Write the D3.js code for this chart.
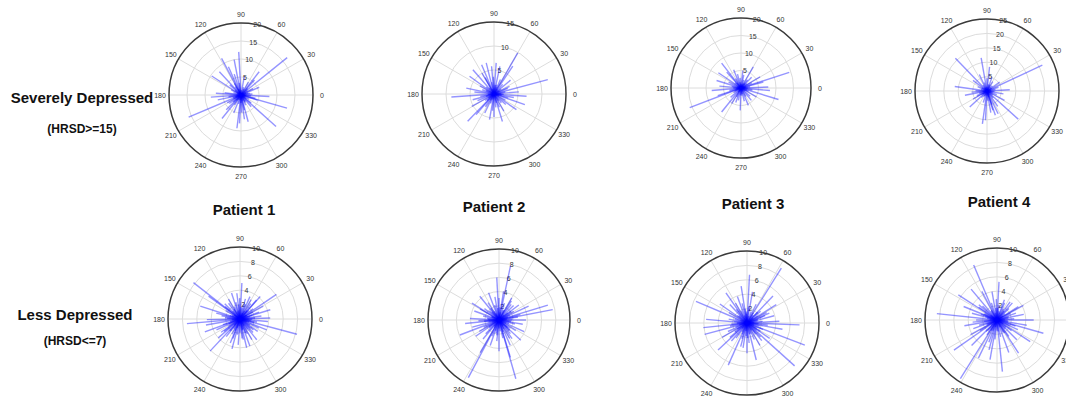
<!DOCTYPE html>
<html>
<head>
<meta charset="utf-8">
<script src="https://cdn.jsdelivr.net/npm/d3@7"></script>
<style>
  body { margin: 0; background: #fff; }
  svg { display: block; }
  text { font-family: "Liberation Sans", Arial, sans-serif; }
</style>
</head>
<body>
<div id="rootDiv"></div>
<script>
const width = 1066
const height = 398

const patients = ["Patient 1", "Patient 2", "Patient 3", "Patient 4"]
const groupNames = ["Severely Depressed", "Less Depressed"]
const groupNotes = ["(HRSD>=15)", "(HRSD<=7)"]
const angleTicks = [0, 30, 60, 90, 120, 150, 180, 210, 240, 270, 300, 330]
const severeMax = [20, 15, 20, 25]
const severeTicks = [[5, 10, 15, 20], [5, 10, 15], [5, 10, 15, 20], [5, 10, 15, 20, 25]]
const lessMax = [10, 10, 10, 10]
const lessTicks = [2, 4, 6, 8, 10]

// [angle in degrees, magnitude]
const severe1 = [
    [39, 16.5], [203, 15.8], [93, 12], [118, 11.5], [344, 13.3], [318, 13.1], [357, 7.9], [184, 8.4],
    [263, 9.3], [285, 7.7], [147, 9.7], [52, 8.2], [231, 8.4], [101, 10], [114, 8.6], [133, 8.8],
    [267, 7.9], [192, 6.6], [23, 5.5], [311, 4.3], [225, 5.8], [48, 5.6], [282, 4.3], [120, 3.7],
    [176, 7], [216, 4], [343, 4.8],
    [5, 3.2], [15, 2.1], [28, 3.8], [45, 2.6], [60, 4.1], [72, 2.3], [80, 5.2], [98, 3.4], [108, 6.1],
    [125, 2.8], [138, 4.2], [152, 3.1], [163, 2.2], [172, 4.6], [188, 3.5], [198, 2.4], [210, 4.4],
    [222, 2.9], [236, 3.3], [248, 5.4], [255, 2.6], [272, 4.9], [278, 6.8], [295, 3.1], [305, 2.2],
    [322, 3.6], [333, 2.5], [348, 4.1], [355, 2.8], [20, 1.5], [110, 1.8], [200, 1.6], [290, 1.7],
    [350, 1.4], [65, 1.9], [155, 1.2], [245, 1.5], [325, 1.8],
    [2, 1.1], [35, 2.2], [88, 1.3], [142, 2.1], [178, 1.2], [206, 2.3], [262, 1.4], [300, 2.4], [338, 1.2],
    [10, 2.6], [128, 1.1], [230, 1.9], [270, 2.2], [315, 1.3]
]
const severe2 = [
    [60, 9.9], [15, 11.6], [184, 8.9], [356, 6.8], [341, 6.8], [226, 7.9], [287, 6], [104, 6.7],
    [131, 6.7], [113, 6.6], [78, 5.9], [56, 7], [144, 6.3], [229, 5.7], [260, 5.4], [325, 5.7],
    [168, 5.9], [209, 5.3], [26, 3.6], [86, 6.5], [95, 5.8], [244, 4.4], [5, 5.2], [350, 4.2],
    [120, 5], [195, 4.6], [270, 4.8], [300, 4.1], [40, 4.5],
    [10, 2.4], [22, 3.1], [35, 1.8], [48, 2.7], [66, 3.3], [74, 2], [92, 3.6], [101, 2.5], [118, 3.9],
    [138, 2.2], [150, 3.4], [160, 2.6], [174, 4.1], [190, 2.9], [202, 3.7], [216, 2.3], [236, 3.2],
    [250, 2.1], [265, 3.5], [278, 2.8], [292, 3], [310, 2.4], [318, 3.3], [332, 2.7], [345, 3.1],
    [358, 2], [127, 1.6], [215, 1.4], [305, 1.7], [30, 1.3],
    [3, 1.5], [52, 1.2], [83, 1.9], [108, 1.1], [156, 1.8], [182, 1.3], [222, 2], [256, 1.2], [285, 1.9],
    [338, 1.1], [70, 1.5], [196, 1.7], [240, 1.5], [352, 1.6]
]
const severe3 = [
    [18, 14.5], [201, 15.7], [128, 9], [163, 7.3], [185, 8.4], [2, 7.8], [343, 11.2], [355, 8.3],
    [231, 8.8], [293, 5.4], [84, 5], [60, 7], [132, 6.1], [146, 7.8], [30, 6.3], [239, 5.2],
    [330, 5.1], [198, 7], [268, 6.4], [15, 6.6], [112, 5.6], [175, 6.2], [310, 4.6], [250, 4.4], [45, 4.3],
    [8, 2.6], [25, 3.4], [38, 2.1], [52, 3], [70, 2.4], [78, 3.8], [95, 2.9], [104, 4.1], [120, 3.1],
    [140, 2.3], [155, 3.9], [170, 2.7], [192, 3.4], [212, 2.5], [222, 4], [244, 2.9], [258, 3.6],
    [276, 2.2], [284, 3.9], [300, 2.8], [318, 3.5], [336, 2.4], [350, 3.3], [358, 1.9], [100, 1.6],
    [190, 1.5], [280, 1.8], [15, 1.4],
    [5, 1.2], [48, 1.7], [88, 1.1], [130, 1.9], [160, 1.2], [205, 2], [235, 1.3], [265, 2.1], [305, 1.2],
    [340, 1.8], [65, 1.4], [180, 2.2], [325, 1.5]
]
const severe4 = [
    [25, 21.2], [134, 15.8], [100, 11.7], [318, 14.6], [262, 11.5], [172, 11.3], [3, 7.9], [296, 8.8],
    [287, 7], [223, 8.2], [191, 7.8], [84, 8.4], [143, 6.1], [35, 5.4], [184, 5.4], [267, 10.2],
    [332, 6.9], [289, 8.9], [305, 6.5], [280, 7.6], [210, 5.6], [350, 5.8], [70, 5], [115, 6.3],
    [10, 3], [18, 4.2], [45, 2.6], [58, 3.8], [75, 2.4], [90, 4.4], [108, 3.1], [125, 2.5], [155, 3.6],
    [165, 2.2], [178, 4], [196, 2.8], [205, 3.9], [230, 3], [240, 2.3], [252, 4.2], [275, 3.4],
    [290, 4.8], [312, 3.2], [325, 2.4], [340, 3.6], [355, 2.6], [30, 1.8], [130, 1.5], [220, 1.7], [300, 1.6],
    [5, 1.4], [52, 1.9], [95, 1.3], [150, 2.1], [186, 1.5], [214, 2.3], [258, 1.6], [284, 2.2], [330, 1.4],
    [65, 2.4], [118, 1.2], [245, 1.9], [345, 2]
]
const less1 = [
    [142, 8.2], [345, 8.2], [185, 7.4], [34, 6.1], [227, 6.1], [290, 4], [87, 5], [17, 4.4], [355, 3.9],
    [144, 5.4], [166, 3.4], [108, 3.8], [49, 3.5], [248, 3.6], [221, 4], [321, 2.4], [29, 3.7], [181, 4.6],
    [279, 2.9], [140, 2.7], [190, 4.8], [266, 3.6], [283, 4.1], [48, 4.2], [66, 3.4], [97, 3.6], [162, 5.8],
    [2, 4.2], [338, 4], [309, 3.7], [232, 3.1], [205, 3.6], [255, 4.3], [120, 3.2], [75, 2.9], [200, 5.2], [300, 3.3],
    [4, 2.1], [12, 1.4], [20, 2.8], [26, 1.1], [38, 2.3], [44, 1.7], [55, 2.6], [62, 1.3], [70, 2.2], [80, 1.6],
    [91, 2.9], [100, 1.2], [104, 2.4], [115, 1.9], [126, 2.7], [133, 1.5], [150, 2.3], [156, 1.2], [170, 2.6],
    [176, 1.8], [194, 1.4], [198, 2.5], [212, 1.9], [218, 2.8], [236, 1.6], [242, 2.4], [252, 1.3], [260, 2.2],
    [270, 1.9], [276, 2.7], [286, 1.5], [296, 2.3], [306, 1.8], [314, 2.6], [328, 1.6], [334, 2.9], [342, 1.3],
    [350, 2.4], [358, 1.7], [8, 3], [60, 3.1], [135, 3], [215, 3.2], [325, 3], [250, 2.9],
    [1, 1.2], [16, 1.8], [32, 1], [50, 1.5], [68, 0.9], [85, 1.7], [110, 1.1], [122, 1.6], [146, 1],
    [160, 1.5], [184, 1.1], [204, 1.7], [226, 1.2], [246, 1.8], [264, 1], [282, 1.6], [302, 1.1], [318, 1.9],
    [336, 1], [352, 1.5], [28, 2], [95, 2], [175, 2.1], [230, 2.2], [292, 2.1], [346, 2]
]
const less2 = [
    [242, 9.2], [286, 8.6], [78, 7.8], [11, 7.7], [17, 7.2], [201, 5.9], [93, 6], [148, 4.5], [186, 4.8],
    [287, 5.5], [240, 5.3], [0, 3.8], [335, 3.9], [111, 4.1], [129, 4.3], [37, 3.5], [251, 3.8], [81, 4.1],
    [294, 3.9], [177, 4.1], [317, 4.2], [60, 3.6], [160, 3.7], [215, 4], [270, 4.4], [350, 3.4], [25, 4.6],
    [100, 3.3], [230, 3.5], [305, 3.2], [195, 3.9], [45, 2.9],
    [3, 1.9], [9, 2.7], [18, 1.3], [30, 2.4], [40, 1.6], [52, 2.8], [66, 1.5], [72, 2.5], [86, 1.8], [90, 3.1],
    [106, 2.2], [118, 1.4], [122, 2.9], [136, 1.9], [142, 2.6], [154, 1.2], [166, 2.3], [172, 1.7], [182, 2.9],
    [190, 1.5], [206, 2.4], [220, 1.8], [226, 2.7], [236, 1.3], [246, 2.5], [258, 1.9], [264, 3], [276, 1.6],
    [282, 2.6], [298, 1.4], [310, 2.5], [322, 1.9], [328, 2.8], [340, 1.5], [346, 2.3], [356, 1.8], [14, 3.1],
    [57, 3.2], [150, 3.1], [210, 3.2], [300, 3],
    [6, 1.1], [24, 1.7], [46, 1], [62, 1.6], [80, 1.1], [96, 1.7], [114, 1], [132, 1.5], [158, 1.1],
    [176, 1.6], [198, 1], [214, 1.7], [232, 1.1], [252, 1.6], [270, 1.2], [290, 1.8], [306, 1], [318, 1.6],
    [334, 1.1], [352, 1.7], [35, 2.1], [125, 2], [185, 2.1], [262, 2.2], [315, 2.1]
]
const less3 = [
    [58, 9], [157, 7.7], [339, 8.6], [318, 8.9], [358, 7.3], [246, 6.4], [223, 5.5], [195, 6.1], [87, 6.7],
    [284, 5.3], [175, 5.7], [32, 4.8], [46, 5.2], [99, 5.2], [125, 5.1], [24, 3.4], [261, 3.5], [326, 3.8],
    [186, 6.1], [133, 3.5], [229, 3.3], [3, 4.5], [80, 4.4], [110, 3.9], [270, 4.2], [300, 3.6], [210, 4],
    [145, 4.6], [15, 3.9], [350, 5],
    [6, 2.2], [12, 1.5], [22, 2.7], [34, 1.8], [41, 2.5], [52, 1.4], [64, 2.9], [70, 1.7], [84, 2.3], [94, 1.3],
    [104, 2.8], [116, 1.9], [128, 2.4], [138, 1.5], [150, 2.9], [162, 1.8], [168, 2.6], [180, 1.4], [190, 2.4],
    [200, 1.7], [204, 2.9], [216, 2.1], [234, 2.6], [240, 1.4], [252, 2.3], [266, 1.8], [276, 2.8], [290, 1.6],
    [294, 2.5], [308, 1.9], [314, 2.7], [332, 1.5], [338, 2.4], [346, 1.8], [354, 2.9], [28, 3.1], [120, 3.2],
    [220, 3.1], [310, 3.2], [255, 3.4],
    [2, 1], [18, 1.6], [38, 1.1], [58, 1.7], [76, 1], [92, 1.6], [108, 1.1], [142, 1.7], [156, 1],
    [174, 1.8], [194, 1.1], [212, 1.6], [228, 1], [246, 1.7], [262, 1.1], [282, 1.6], [302, 1.2], [322, 1.7],
    [342, 1], [356, 1.6], [45, 2.1], [98, 2], [184, 2.2], [272, 2.1], [328, 2.2]
]
const less4 = [
    [113, 8.3], [238, 9.6], [174, 8.4], [344, 6.7], [0, 5.1], [327, 5.5], [276, 7.2], [215, 7.3], [87, 5.3],
    [147, 6.4], [158, 5], [32, 3.5], [29, 4.2], [118, 4.5], [260, 5.6], [303, 5.5], [244, 5.9], [209, 4.2],
    [54, 3.1], [350, 4.2], [130, 5.6], [190, 4.6], [290, 4.8], [225, 5], [12, 3.8], [70, 3], [100, 4],
    [165, 3.6], [315, 3.9], [255, 4.3], [200, 3.5], [140, 3.3],
    [4, 2.4], [10, 1.6], [20, 2.8], [38, 1.4], [44, 2.3], [60, 1.8], [66, 2.6], [78, 1.3], [92, 2.9], [96, 1.7],
    [108, 2.5], [124, 1.5], [136, 2.8], [152, 1.9], [160, 2.4], [170, 1.4], [180, 2.9], [186, 1.8], [196, 2.6],
    [206, 1.5], [212, 2.8], [230, 1.9], [236, 2.5], [248, 1.6], [264, 2.7], [270, 1.5], [282, 2.4], [296, 1.9],
    [306, 2.8], [320, 1.6], [324, 2.5], [336, 1.9], [342, 2.7], [356, 1.5], [48, 3.2], [145, 3.1], [250, 3.3],
    [335, 3.2], [185, 3.4],
    [1, 1.1], [16, 1.7], [34, 1], [52, 1.6], [72, 1.1], [88, 1.7], [104, 1], [120, 1.6], [144, 1.1],
    [164, 1.7], [176, 1], [202, 1.6], [220, 1.1], [240, 1.7], [258, 1], [276, 1.6], [292, 1.1], [312, 1.7],
    [330, 1], [350, 1.6], [26, 2.1], [82, 2.1], [156, 2], [226, 2.2], [300, 2.1]
]

const svg = d3.select("#rootDiv").append("svg")
    .attr("width", width)
    .attr("height", height)

function rad(deg) {
    // d3.pointRadial measures from 12 o'clock clockwise
    return (90 - deg) * Math.PI / 180
}

function drawCompass(cx, cy, R, rmax, ticks, data) {
    const g = svg.append("g").attr("transform", `translate(${cx},${cy})`)
    const r = d3.scaleLinear().domain([0, rmax]).range([0, R])

    g.selectAll(".ring").data(ticks.filter(t => t < rmax)).enter()
        .append("circle")
        .attr("r", d => r(d))
        .attr("fill", "none")
        .attr("stroke", "#dcdcdc")
        .attr("stroke-width", 1)

    g.selectAll(".spoke").data(angleTicks.filter(a => a < 180)).enter()
        .append("line")
        .attr("x1", d => d3.pointRadial(rad(d), R)[0])
        .attr("y1", d => d3.pointRadial(rad(d), R)[1])
        .attr("x2", d => d3.pointRadial(rad(d + 180), R)[0])
        .attr("y2", d => d3.pointRadial(rad(d + 180), R)[1])
        .attr("stroke", "#dcdcdc")
        .attr("stroke-width", 1)

    g.append("circle")
        .attr("r", R)
        .attr("fill", "none")
        .attr("stroke", "#3a3a3a")
        .attr("stroke-width", 1.5)

    g.selectAll(".alabel").data(angleTicks).enter()
        .append("text")
        .attr("x", d => d3.pointRadial(rad(d), R + 9)[0])
        .attr("y", d => d3.pointRadial(rad(d), R + 9)[1])
        .attr("text-anchor", "middle")
        .attr("dominant-baseline", "central")
        .attr("font-size", 7)
        .attr("fill", "#333")
        .text(d => d)

    g.selectAll(".rlabel").data(ticks).enter()
        .append("text")
        .attr("x", d => d3.pointRadial(rad(77), r(d))[0])
        .attr("y", d => d3.pointRadial(rad(77), r(d))[1])
        .attr("text-anchor", "middle")
        .attr("dominant-baseline", "central")
        .attr("font-size", 7)
        .attr("fill", "#333")
        .text(d => d)

    g.append("g").selectAll("line").data(data).enter()
        .append("line")
        .attr("x1", 0)
        .attr("y1", 0)
        .attr("x2", d => d3.pointRadial(rad(d[0]), r(d[1]))[0])
        .attr("y2", d => d3.pointRadial(rad(d[0]), r(d[1]))[1])
        .attr("stroke", "#0000ff")
        .attr("stroke-opacity", 0.42)
        .attr("stroke-width", 1.4)
}

const severeData = [severe1, severe2, severe3, severe4]
const lessData = [less1, less2, less3, less4]
const severePos = [[241, 95, 72], [494, 94, 72], [741, 88, 70], [987, 91, 72]]
const lessPos = [[240, 319, 72], [499, 320, 71], [747, 323, 72], [997, 320, 72]]

severeData.forEach((d, i) => drawCompass(severePos[i][0], severePos[i][1], severePos[i][2], severeMax[i], severeTicks[i], d))
lessData.forEach((d, i) => drawCompass(lessPos[i][0], lessPos[i][1], lessPos[i][2], lessMax[i], lessTicks, d))

const titlePos = [[244, 215], [494, 212], [753, 209], [999, 207]]
svg.selectAll(".ptitle").data(patients).enter()
    .append("text")
    .attr("x", (d, i) => titlePos[i][0])
    .attr("y", (d, i) => titlePos[i][1])
    .attr("text-anchor", "middle")
    .attr("font-size", 15)
    .attr("font-weight", "bold")
    .attr("fill", "#111")
    .text(d => d)

const groupPos = [[82, 103, 133], [75, 320, 345]]
groupNames.forEach((name, i) => {
    svg.append("text")
        .attr("x", groupPos[i][0])
        .attr("y", groupPos[i][1])
        .attr("text-anchor", "middle")
        .attr("font-size", 15)
        .attr("font-weight", "bold")
        .attr("fill", "#111")
        .text(name)
    svg.append("text")
        .attr("x", groupPos[i][0])
        .attr("y", groupPos[i][2])
        .attr("text-anchor", "middle")
        .attr("font-size", 12)
        .attr("font-weight", "bold")
        .attr("fill", "#111")
        .text(groupNotes[i])
})
</script>
</body>
</html>
